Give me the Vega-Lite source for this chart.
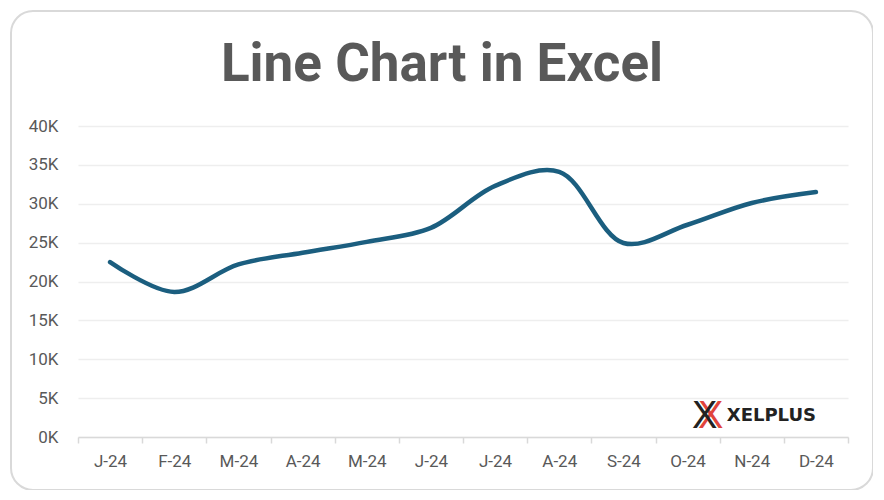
{
  "$schema": "https://vega.github.io/schema/vega-lite/v6.json",
  "width": 862,
  "height": 479,
  "autosize": {"type": "none"},
  "padding": {"left": 11, "top": 11, "right": 0, "bottom": 0},
  "background": "white",
  "config": {
    "view": {"stroke": "#d9d9d9", "strokeWidth": 2, "cornerRadius": 22},
    "font": "Roboto"
  },
  "title": {
    "text": "Line Chart in Excel",
    "font": "Roboto",
    "fontSize": 53,
    "fontWeight": "bold",
    "color": "#595959",
    "anchor": "middle",
    "baseline": "alphabetic",
    "offset": -123
  },
  "data": {
    "values": [
      {"month": "Jan", "sales": 22500},
      {"month": "Feb", "sales": 18650},
      {"month": "Mar", "sales": 22200},
      {"month": "Apr", "sales": 23700},
      {"month": "May", "sales": 25100},
      {"month": "Jun", "sales": 26900},
      {"month": "Jul", "sales": 32300},
      {"month": "Aug", "sales": 34100},
      {"month": "Sep", "sales": 24950},
      {"month": "Oct", "sales": 27300},
      {"month": "Nov", "sales": 30100},
      {"month": "Dec", "sales": 31500}
    ]
  },
  "layer": [
    {
      "mark": {"type": "line", "interpolate": "catmull-rom", "strokeWidth": 4.5, "color": "#1b5e7f", "strokeCap": "round"},
      "encoding": {
        "x": {
          "field": "month",
          "type": "ordinal",
          "sort": null,
          "bandPosition": 0.5,
          "scale": {"type": "band", "range": [67, 837], "paddingInner": 0, "paddingOuter": 0},
          "axis": {
            "orient": "bottom",
            "offset": -53,
            "title": null,
            "grid": false,
            "domainColor": "#d9d9d9",
            "domainWidth": 1.5,
            "tickColor": "#d9d9d9",
            "tickWidth": 1.5,
            "tickSize": 6,
            "tickBand": "extent",
            "labelColor": "#595959",
            "labelFont": "Roboto",
            "labelFontSize": 17,
            "labelPadding": 10,
            "labelAngle": 0,
            "labelExpr": "datum.label ? substring(datum.label, 0, 1) + '-24' : ''"
          }
        },
        "y": {
          "field": "sales",
          "type": "quantitative",
          "scale": {"domain": [0, 40000], "range": [426, 115], "nice": false, "zero": true},
          "axis": {
            "orient": "left",
            "offset": -55,
            "title": null,
            "domain": false,
            "ticks": false,
            "labelPadding": 8,
            "values": [0, 5000, 10000, 15000, 20000, 25000, 30000, 35000, 40000],
            "labelExpr": "(datum.value / 1000) + 'K'",
            "labelColor": "#595959",
            "labelFont": "Roboto",
            "labelFontSize": 17,
            "gridColor": "#eeeeee",
            "gridWidth": 1.5
          }
        }
      }
    },
    {
      "data": {"values": [{"brand": "XELPLUS"}]},
      "mark": {"type": "text", "text": "X", "font": "Liberation Sans", "fontSize": 38, "color": "#e0443c", "align": "center", "baseline": "alphabetic", "dx": -41, "dy": 7},
      "encoding": {"x": {"datum": "Nov"}, "y": {"datum": 2000}}
    },
    {
      "data": {"values": [{"brand": "XELPLUS"}]},
      "mark": {"type": "text", "text": "X", "font": "Liberation Sans", "fontSize": 38, "color": "#222222", "align": "center", "baseline": "alphabetic", "dx": -47, "dy": 7},
      "encoding": {"x": {"datum": "Nov"}, "y": {"datum": 2000}}
    },
    {
      "data": {"values": [{"brand": "XELPLUS"}]},
      "mark": {"type": "text", "font": "DejaVu Sans", "fontWeight": "bold", "fontSize": 18, "color": "#222222", "align": "left", "baseline": "alphabetic", "dx": -25},
      "encoding": {"x": {"datum": "Nov"}, "y": {"datum": 2000}, "text": {"field": "brand"}}
    }
  ]
}
